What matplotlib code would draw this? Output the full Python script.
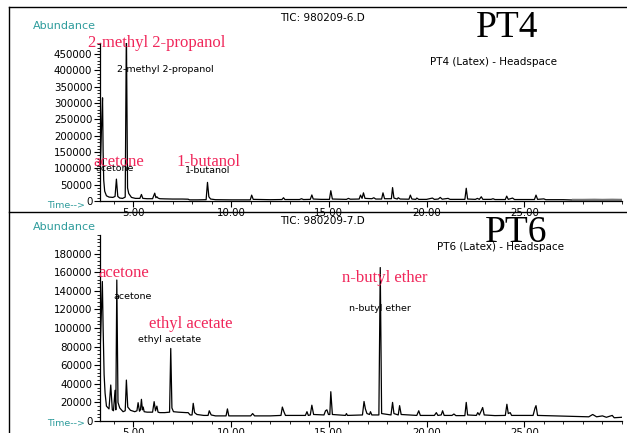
import matplotlib
matplotlib.use("Agg")
import matplotlib.pyplot as plt
from matplotlib.lines import Line2D
from matplotlib.ticker import MultipleLocator, FixedLocator

# ---- PT4 trace (retention time in min, abundance) ----
t_pt4 = [3.29, 3.33, 3.38, 3.42, 3.45, 3.48, 3.53, 3.62, 3.75, 3.95, 4.06, 4.13, 4.2, 4.3, 4.45,
         4.58, 4.64, 4.7, 4.76, 4.9, 5.1, 5.33, 5.41, 5.48, 5.7, 5.98, 6.09, 6.15, 6.2, 6.26, 6.35,
         6.6, 7.0, 7.5, 7.8, 7.87, 8.3, 8.72, 8.79, 8.86, 8.95, 9.2, 10.0, 10.98, 11.05, 11.13,
         12.0, 12.6, 12.68, 12.75, 13.5, 13.6, 13.7, 14.05, 14.13, 14.2, 14.6, 15.03, 15.1, 15.18,
         15.9, 16.0, 16.1, 16.55, 16.62, 16.7, 16.77, 16.85, 17.2, 17.3, 17.4, 17.7, 17.77, 17.85,
         18.2, 18.26, 18.33, 18.5, 18.55, 18.65, 19.1, 19.17, 19.25, 19.45, 19.5, 19.6, 20.0, 20.3,
         20.4, 20.6, 20.7, 20.8, 21.1, 21.2, 21.96, 22.03, 22.1, 22.5, 22.6, 22.7, 22.8, 22.88,
         23.3, 23.4, 23.5, 24.03, 24.1, 24.18, 24.4, 24.5, 25.52, 25.6, 25.68, 26.0, 26.1, 27.0,
         27.5, 28.0, 28.6, 29.0, 29.5, 30.0]
a_pt4 = [90000, 150000, 250000, 316000, 150000, 64000, 30000, 16000, 12000, 11000, 14000, 67000, 14000, 9000, 8000,
         12000, 530000, 40000, 23000, 11000, 8000, 8000, 20000, 8000, 7000, 7000, 24000, 10000, 13000, 9000, 7000,
         6500, 6000, 6000, 5500, 3500, 3500, 4000, 57000, 13000, 6000, 4000, 3500, 3500, 18000, 5000,
         4000, 4500, 10000, 4500, 4500, 7000, 4500, 5000, 18500, 6000, 5000, 5000, 31500, 6000,
         5000, 8000, 5500, 6000, 18000, 8000, 25000, 8000, 7000, 10000, 6000, 6000, 25000, 7000,
         7000, 41000, 9000, 6000, 10000, 6000, 5500, 18000, 6000, 5000, 9000, 5000, 5000, 9000,
         5000, 6000, 11000, 5500, 8000, 5000, 5000, 39000, 6000, 5000, 8000, 5000, 13000, 5000,
         5000, 7000, 4500, 4500, 15000, 5000, 9000, 4500, 4500, 18000, 5000, 6500, 4000, 4000,
         3000, 3000, 3500, 3000, 3500, 3000]

# ---- PT6 trace ----
t_pt6 = [3.29, 3.35, 3.41, 3.45, 3.5, 3.55, 3.62, 3.75, 3.84, 3.92, 3.98, 4.06, 4.1, 4.15, 4.21,
         4.3, 4.47, 4.58, 4.64, 4.71, 4.85, 5.07, 5.18, 5.24, 5.31, 5.36, 5.41, 5.46, 5.5, 5.55,
         5.7, 5.98, 6.06, 6.13, 6.2, 6.26, 6.35, 6.6, 6.85, 6.91, 6.97, 7.05, 7.3, 7.7, 7.8, 7.9,
         8.0, 8.06, 8.13, 8.25, 8.6, 8.82, 8.88, 8.98, 9.2, 9.74, 9.81, 9.88, 10.2, 11.0, 11.1,
         11.2, 12.0, 12.55, 12.62, 12.7, 12.78, 13.3, 13.8, 13.88, 13.95, 14.05, 14.13, 14.22,
         14.75, 14.83, 14.9, 14.98, 15.05, 15.1, 15.18, 15.85, 15.9, 15.95, 16.72, 16.8, 16.87,
         16.95, 17.08, 17.13, 17.2, 17.56, 17.63, 17.7, 18.18, 18.26, 18.33, 18.55, 18.62, 18.7,
         19.5, 19.6, 19.68, 20.4, 20.5, 20.58, 20.75, 20.82, 20.9, 21.3, 21.4, 21.5, 21.96, 22.03,
         22.1, 22.55, 22.62, 22.7, 22.8, 22.87, 22.95, 23.5, 24.03, 24.11, 24.18, 24.28, 24.35,
         25.45, 25.55, 25.6, 25.68, 26.5, 27.5, 28.3, 28.5, 28.7, 29.0, 29.2, 29.5, 29.6, 30.0]
a_pt6 = [71000, 110000, 150000, 100000, 50000, 30000, 16000, 13000, 38700, 12000, 11000, 33000, 12000, 151600, 20000,
         14000, 10000, 11000, 44000, 15000, 11500, 10000, 11000, 19700, 10500, 12000, 23300, 12000, 15000, 10000,
         9500, 9500, 20800, 11000, 16000, 9500, 9000, 9000, 9500, 78000, 14000, 10000, 9500, 9000, 9000, 6500,
         6500, 19000, 9000, 7000, 6000, 6000, 11000, 6500, 5500, 5500, 13000, 5500, 5500, 5500, 8000,
         5500, 5500, 6000, 15000, 10000, 6000, 6000, 6000, 10000, 6000, 6500, 17000, 7000,
         6500, 11000, 12000, 7000, 7000, 31500, 7000, 6000, 8000, 6000, 6500, 21000, 13000,
         8000, 7000, 10000, 6500, 6500, 165000, 8000, 6500, 20000, 8000, 6500, 16500, 7000,
         6000, 11000, 6000, 6000, 9000, 6000, 6500, 11000, 6000, 6000, 7500, 5800, 5800, 20000,
         6500, 6000, 9000, 6500, 11000, 14500, 6500, 5800, 6000, 18000, 8000, 9000, 6000,
         6000, 14000, 16500, 6000, 5500, 5000, 4500, 7000, 4500, 5500, 4000, 6000, 3500, 4000]

pt4_yticks = [0, 50000, 100000, 150000, 200000, 250000, 300000, 350000, 400000, 450000]
pt6_yticks = [0, 20000, 40000, 60000, 80000, 100000, 120000, 140000, 160000, 180000]
xticks = [5, 10, 15, 20, 25]
xtick_labels = ["5.00", "10.00", "15.00", "20.00", "25.00"]

RED = "#f0265a"
TEAL = "#2e9c9c"
W, H = 627, 433

fig = plt.figure(figsize=(W / 100, H / 100), dpi=100)


def px(x, y):
    return x / W, 1 - y / H


def style_axes(ax, yticks, ymax, yminor):
    ax.set_xlim(3.29, 30.0)
    ax.set_ylim(0, ymax)
    for s in ("top", "right"):
        ax.spines[s].set_visible(False)
    for s in ("left", "bottom"):
        ax.spines[s].set_linewidth(0.9)
    ax.set_xticks(xticks)
    ax.set_xticklabels(xtick_labels)
    ax.xaxis.set_minor_locator(MultipleLocator(1))
    ax.yaxis.set_major_locator(FixedLocator(yticks))
    ax.set_yticklabels([str(v) for v in yticks])
    ax.yaxis.set_minor_locator(MultipleLocator(yminor))
    ax.tick_params(axis="both", which="major", length=4, width=0.8, labelsize=7.4, pad=1.5)
    ax.tick_params(axis="both", which="minor", length=2.5, width=0.6)
    ax.tick_params(axis="x", which="both", pad=1.0)


# ---- top panel: PT4 ----
ax1 = fig.add_axes([100 / W, 1 - 201 / H, 522 / W, 158 / H])
style_axes(ax1, pt4_yticks, 484000, 10000)
cut = t_pt4.index(27.5)
ax1.plot(t_pt4[:cut + 1], a_pt4[:cut + 1], color="black", lw=0.9)
ax1.plot(t_pt4[cut:], a_pt4[cut:], color="#777777", lw=1.8)

ax1.text(2.68, 485000, "2-methyl 2-propanol", color=RED, family="Liberation Serif",
         fontsize=12, va="center", ha="left", clip_on=False)
ax1.text(4.17, 402000, "2-methyl 2-propanol", color="black", fontsize=6.8, va="center")
ax1.text(3.04, 101000, "acetone", color="black", fontsize=6.8, va="center")
ax1.text(2.94, 120000, "acetone", color=RED, family="Liberation Serif",
         fontsize=12, va="center", clip_on=False)
ax1.text(7.65, 93000, "1-butanol", color="black", fontsize=6.8, va="center")
ax1.text(7.19, 120500, "1-butanol", color=RED, family="Liberation Serif",
         fontsize=12, va="center")

# ---- bottom panel: PT6 ----
ax2 = fig.add_axes([100 / W, 1 - 421 / H, 522 / W, 186 / H])
style_axes(ax2, pt6_yticks, 200000, 4000)
ax2.plot(t_pt6, a_pt6, color="black", lw=0.9)

ax2.text(3.96, 134000, "acetone", color="black", fontsize=6.8, va="center")
ax2.text(3.19, 159000, "acetone", color=RED, family="Liberation Serif",
         fontsize=12, va="center", clip_on=False)
ax2.text(5.24, 88000, "ethyl acetate", color="black", fontsize=6.8, va="center")
ax2.text(5.80, 104000, "ethyl acetate", color=RED, family="Liberation Serif",
         fontsize=12, va="center")
ax2.text(16.04, 121000, "n-butyl ether", color="black", fontsize=6.8, va="center")
ax2.text(15.67, 153400, "n-butyl ether", color=RED, family="Liberation Serif",
         fontsize=12, va="center")

# ---- header texts ----
fig.text(*px(280, 18), "TIC: 980209-6.D", fontsize=7.5, va="center")
fig.text(*px(507, 37), "PT4", fontsize=27, family="Liberation Serif", ha="center", va="baseline")
fig.text(*px(430, 62), "PT4 (Latex) - Headspace", fontsize=7.5, va="center")
fig.text(*px(33, 26), "Abundance", fontsize=8, color=TEAL, va="center")
fig.text(*px(47, 205), "Time-->", fontsize=6.8, color=TEAL, va="center")

fig.text(*px(280, 221), "TIC: 980209-7.D", fontsize=7.5, va="center")
fig.text(*px(516, 242), "PT6", fontsize=27, family="Liberation Serif", ha="center", va="baseline")
fig.text(*px(437, 247), "PT6 (Latex) - Headspace", fontsize=7.5, va="center")
fig.text(*px(33, 227), "Abundance", fontsize=8, color=TEAL, va="center")
fig.text(*px(47, 424), "Time-->", fontsize=6.8, color=TEAL, va="center")

# ---- frame lines ----
for xs, ys in [((9, W), (7, 7)), ((9, 9), (7, H)), ((9, W), (212, 212))]:
    fig.add_artist(Line2D([x / W for x in xs], [1 - y / H for y in ys],
                          color="black", lw=1.0, transform=fig.transFigure))

fig.savefig("out.png", dpi=100)
